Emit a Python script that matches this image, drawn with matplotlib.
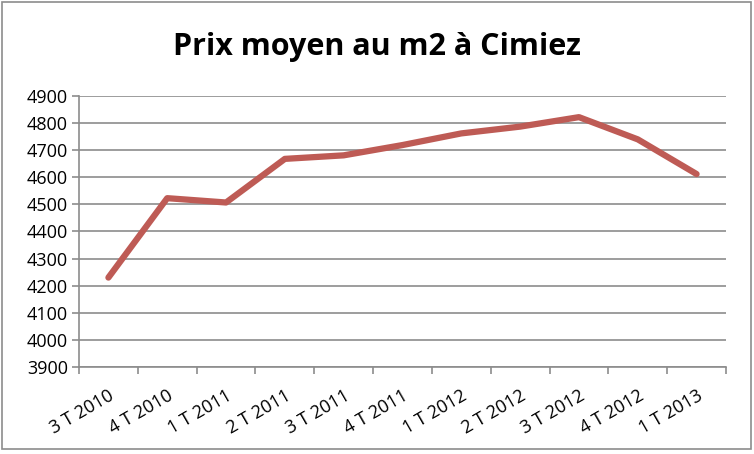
import matplotlib
matplotlib.use("Agg")
import matplotlib.pyplot as plt
from matplotlib.patches import Rectangle

categories = ["3 T 2010", "4 T 2010", "1 T 2011", "2 T 2011", "3 T 2011", "4 T 2011",
              "1 T 2012", "2 T 2012", "3 T 2012", "4 T 2012", "1 T 2013"]
prix = [4230, 4523, 4507, 4668, 4681, 4719, 4762, 4787, 4822, 4740, 4612]
yticks = list(range(3900, 4901, 100))

plt.rcParams['font.family'] = ['Open Sans', 'DejaVu Sans']

fig = plt.figure(figsize=(7.54, 4.54), dpi=100)
ax = fig.add_axes([79/754, 1 - 367/454, (726-79)/754, (367-96)/454])

x = [i + 0.5 for i in range(len(categories))]
ax.plot(x, prix, color='#BE5B55', linewidth=4.5, solid_capstyle='round', solid_joinstyle='round', zorder=3)

ax.set_xlim(0, len(categories))
ax.set_ylim(3900, 4900)
ax.set_yticks(yticks)
ax.set_yticklabels([str(v) for v in yticks], fontsize=13)
ax.yaxis.grid(True, color='#8c8c8c', linewidth=1.2)
ax.set_axisbelow(True)

ax.set_xticks(range(len(categories) + 1))
ax.set_xticklabels([])
ax.set_xticks(x, minor=True)
ax.set_xticklabels(categories, minor=True, rotation=30, ha='right', rotation_mode='anchor', fontsize=13)
ax.tick_params(axis='x', which='minor', length=0, pad=14)
ax.tick_params(axis='x', which='major', length=5, color='#8c8c8c', width=1.2)
ax.tick_params(axis='y', length=5, color='#8c8c8c', width=1.2, pad=3)

for s in ['top', 'right']:
    ax.spines[s].set_visible(False)
for s in ['left', 'bottom']:
    ax.spines[s].set_color('#8c8c8c')
    ax.spines[s].set_linewidth(1.2)

fig.text(0.5, 1 - 47/454, "Prix moyen au m2 à Cimiez", ha='center', va='center',
         fontsize=22, fontweight='bold')

fig.patches.append(Rectangle((2/754, 5/454), 749/754, 447/454, transform=fig.transFigure,
                             fill=False, edgecolor='#8c8c8c', linewidth=1.2))

fig.savefig("out.png", dpi=100)
